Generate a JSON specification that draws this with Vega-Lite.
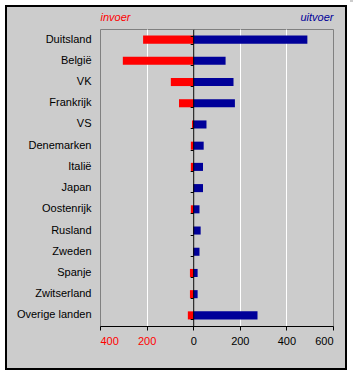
{
  "$schema": "https://vega.github.io/schema/vega-lite/v6.json",
  "width": 233,
  "height": 297,
  "autosize": {"type": "none"},
  "padding": {"left": 100, "top": 29, "right": 20, "bottom": 49},
  "background": "#CCCCCC",
  "config": {
    "view": {"fill": "#CCCCCC", "stroke": "#808080", "strokeWidth": 1},
    "font": "Liberation Sans",
    "axis": {"labelFont": "Liberation Sans", "labelFontSize": 11, "labelColor": "black", "title": null}
  },
  "data": {
    "values": [
      {"land": "Duitsland", "stroom": "invoer", "waarde": -215},
      {"land": "Duitsland", "stroom": "uitvoer", "waarde": 490},
      {"land": "België", "stroom": "invoer", "waarde": -302},
      {"land": "België", "stroom": "uitvoer", "waarde": 139},
      {"land": "VK", "stroom": "invoer", "waarde": -96},
      {"land": "VK", "stroom": "uitvoer", "waarde": 173},
      {"land": "Frankrijk", "stroom": "invoer", "waarde": -61},
      {"land": "Frankrijk", "stroom": "uitvoer", "waarde": 179},
      {"land": "VS", "stroom": "invoer", "waarde": -5},
      {"land": "VS", "stroom": "uitvoer", "waarde": 57},
      {"land": "Denemarken", "stroom": "invoer", "waarde": -10},
      {"land": "Denemarken", "stroom": "uitvoer", "waarde": 45},
      {"land": "Italië", "stroom": "invoer", "waarde": -10},
      {"land": "Italië", "stroom": "uitvoer", "waarde": 42},
      {"land": "Japan", "stroom": "invoer", "waarde": 0},
      {"land": "Japan", "stroom": "uitvoer", "waarde": 42},
      {"land": "Oostenrijk", "stroom": "invoer", "waarde": -10},
      {"land": "Oostenrijk", "stroom": "uitvoer", "waarde": 27},
      {"land": "Rusland", "stroom": "invoer", "waarde": 0},
      {"land": "Rusland", "stroom": "uitvoer", "waarde": 32},
      {"land": "Zweden", "stroom": "invoer", "waarde": 0},
      {"land": "Zweden", "stroom": "uitvoer", "waarde": 27},
      {"land": "Spanje", "stroom": "invoer", "waarde": -14},
      {"land": "Spanje", "stroom": "uitvoer", "waarde": 19},
      {"land": "Zwitserland", "stroom": "invoer", "waarde": -14},
      {"land": "Zwitserland", "stroom": "uitvoer", "waarde": 19},
      {"land": "Overige landen", "stroom": "invoer", "waarde": -23},
      {"land": "Overige landen", "stroom": "uitvoer", "waarde": 276}
    ]
  },
  "resolve": {"axis": {"x": "independent", "y": "independent"}},
  "layer": [
    {
      "mark": {"type": "bar"},
      "encoding": {
        "y": {
          "field": "land", "type": "nominal", "sort": null,
          "scale": {"paddingInner": 0.62, "paddingOuter": 0.31},
          "axis": {"ticks": false, "domain": false, "grid": false, "labelPadding": 9}
        },
        "x": {
          "field": "waarde", "type": "quantitative", "stack": null,
          "scale": {"domain": [-400, 600], "nice": false, "zero": false},
          "axis": {
            "orient": "bottom",
            "values": [-400, -200, 0, 200, 400, 600],
            "labelExpr": "abs(datum.value)",
            "labelColor": {"condition": {"test": "datum.value < 0", "value": "#FF0000"}, "value": "black"},
            "ticks": true, "tickSize": 4, "tickColor": "black",
            "domain": true, "domainColor": "black",
            "labelPadding": 5,
            "grid": true,
            "gridColor": {"condition": {"test": "datum.value == -400 || datum.value == 600", "value": "transparent"}, "value": "white"},
            "gridOpacity": 1
          }
        },
        "color": {
          "field": "stroom", "type": "nominal",
          "scale": {"domain": ["invoer", "uitvoer"], "range": ["#FF0000", "#000099"]},
          "legend": null
        }
      }
    },
    {
      "transform": [{"filter": "false"}],
      "mark": {"type": "point"},
      "encoding": {
        "x": {
          "field": "waarde", "type": "quantitative",
          "axis": {
            "orient": "top", "values": [-400, 600],
            "labelExpr": "datum.value < 0 ? 'invoer' : 'uitvoer'",
            "labelFlush": true, "ticks": false, "domain": false, "grid": false,
            "labelFontStyle": "italic", "labelPadding": 7,
            "labelColor": {"condition": {"test": "datum.value < 0", "value": "#FF0000"}, "value": "#000099"}
          }
        },
        "y": {
          "field": "land", "type": "nominal", "sort": null,
          "axis": {
            "orient": "left", "offset": -93.2, "labels": false,
            "ticks": true, "tickBand": "extent", "tickSize": 3, "tickColor": "black",
            "domain": true, "domainColor": "black", "grid": false, "zindex": 1
          }
        }
      }
    },
    {
      "transform": [{"filter": "false"}],
      "mark": {"type": "point", "color": "black", "filled": false},
      "encoding": {
        "shape": {
          "datum": "kader",
          "scale": {"range": ["M-1,-1.0676H1V1.0676H-1Z"]},
          "legend": {
            "orient": "none", "legendX": -95, "legendY": -12.5,
            "title": null, "labelExpr": "''", "padding": 0,
            "symbolSize": 115600, "symbolStrokeColor": "black", "symbolStrokeWidth": 2,
            "symbolFillColor": "transparent", "symbolOpacity": 1
          }
        }
      }
    },
    {
      "transform": [{"filter": "false"}],
      "mark": {"type": "point", "color": "white", "filled": false},
      "encoding": {
        "strokeDash": {
          "datum": "rand",
          "scale": {"range": [[1, 0]]},
          "legend": {
            "orient": "none", "legendX": -101, "legendY": -18.5,
            "title": null, "labelExpr": "''", "padding": 0,
            "symbolType": "M-1,-1.0661H1V1.0661H-1Z",
            "symbolSize": 121104, "symbolStrokeColor": "white", "symbolStrokeWidth": 6,
            "symbolFillColor": "transparent", "symbolOpacity": 1
          }
        }
      }
    }
  ]
}
